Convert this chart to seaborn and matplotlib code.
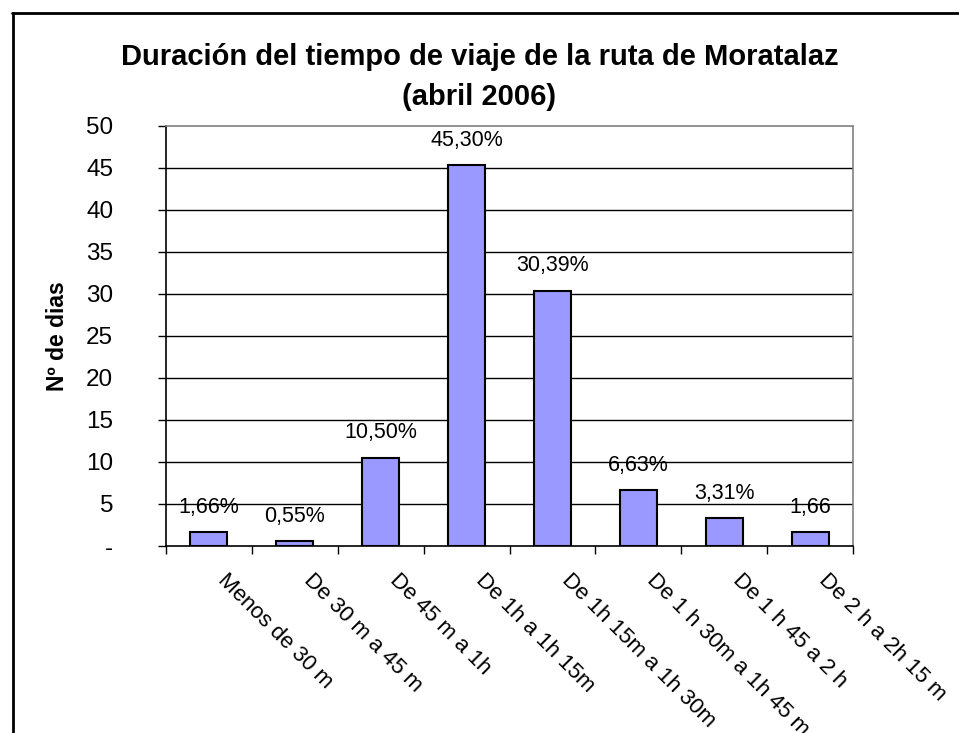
import matplotlib
matplotlib.use("Agg")
import matplotlib.pyplot as plt
import seaborn as sns
import pandas as pd
from matplotlib.lines import Line2D

categories = ["Menos de 30 m", "De 30 m a 45 m", "De 45 m a 1h", "De 1h a 1h 15m",
              "De 1h 15m a 1h 30m", "De 1 h 30m a 1h 45 m", "De 1 h 45 a 2 h", "De 2 h a 2h 15 m"]
values = [1.66, 0.55, 10.50, 45.30, 30.39, 6.63, 3.31, 1.66]
bar_labels = ["1,66%", "0,55%", "10,50%", "45,30%", "30,39%", "6,63%", "3,31%", "1,66"]
yticks = [0, 5, 10, 15, 20, 25, 30, 35, 40, 45, 50]
ytick_labels = ["-", "5", "10", "15", "20", "25", "30", "35", "40", "45", "50"]

sns.set_style("white")
plt.rcParams['font.family'] = ['Liberation Sans', 'DejaVu Sans']
plt.rcParams['text.color'] = 'black'
plt.rcParams['axes.labelcolor'] = 'black'
plt.rcParams['xtick.color'] = 'black'
plt.rcParams['ytick.color'] = 'black'

df = pd.DataFrame({"cat": categories, "val": values})

fig = plt.figure(figsize=(9.59, 7.33), dpi=100)
ax = fig.add_axes([166/959, 1-546/733, (853-166)/959, (546-126)/733])

sns.barplot(data=df, x="cat", y="val", ax=ax, color="#9999FF", width=0.43,
            edgecolor="black", linewidth=1.5, saturation=1, zorder=3)

ax.set_ylim(0, 50)
ax.set_xlim(-0.5, len(categories) - 0.5)
ax.set_yticks(yticks)
ax.set_yticklabels(ytick_labels, fontsize=17.5)
for y in yticks[1:-1]:
    ax.axhline(y, color="black", lw=1, zorder=1)

# ticks at category boundaries
ax.set_xticks([i - 0.5 for i in range(len(categories) + 1)], minor=False)
ax.set_xticklabels([])
ax.tick_params(axis="x", direction="out", length=6, width=1, color="black", bottom=True)
ax.tick_params(axis="y", direction="out", length=6, width=1, color="black", left=True, pad=32)

for i, lab in enumerate(categories):
    ax.annotate(lab, xy=(i, 0), xycoords=("data", "axes fraction"),
                xytext=(14, -17), textcoords="offset points",
                rotation=-45, rotation_mode="anchor", ha="left", va="top",
                fontsize=16, color="black")

for i, (v, lab) in enumerate(zip(values, bar_labels)):
    ax.annotate(lab, xy=(i, v), xytext=(0, 18), textcoords="offset points",
                ha="center", va="center", fontsize=15.5, color="black")

ax.set_xlabel("")
ax.set_ylabel("Nº de dias", fontsize=16.5, fontweight="bold", color="black")
ax.yaxis.label.set_va("center")
ax.yaxis.set_label_coords((58 - 166) / 687, 0.5)

for s in ["left", "bottom"]:
    ax.spines[s].set_color("black")
    ax.spines[s].set_linewidth(1.2)
for s in ["top", "right"]:
    ax.spines[s].set_color("#808080")
    ax.spines[s].set_linewidth(1.2)

fig.text(0.5, 1-57/733, "Duración del tiempo de viaje de la ruta de Moratalaz",
         ha="center", va="center", fontsize=21, fontweight="bold", color="black")
fig.text(0.5, 1-97/733, "(abril 2006)", ha="center", va="center",
         fontsize=21, fontweight="bold", color="black")

# outer chart border
fig.add_artist(Line2D([12/959, 1.0], [1-13/733, 1-13/733], transform=fig.transFigure,
                      color="black", lw=2))
fig.add_artist(Line2D([13/959, 13/959], [0.0, 1-13/733], transform=fig.transFigure,
                      color="black", lw=2))

fig.savefig("out.png", dpi=100)
